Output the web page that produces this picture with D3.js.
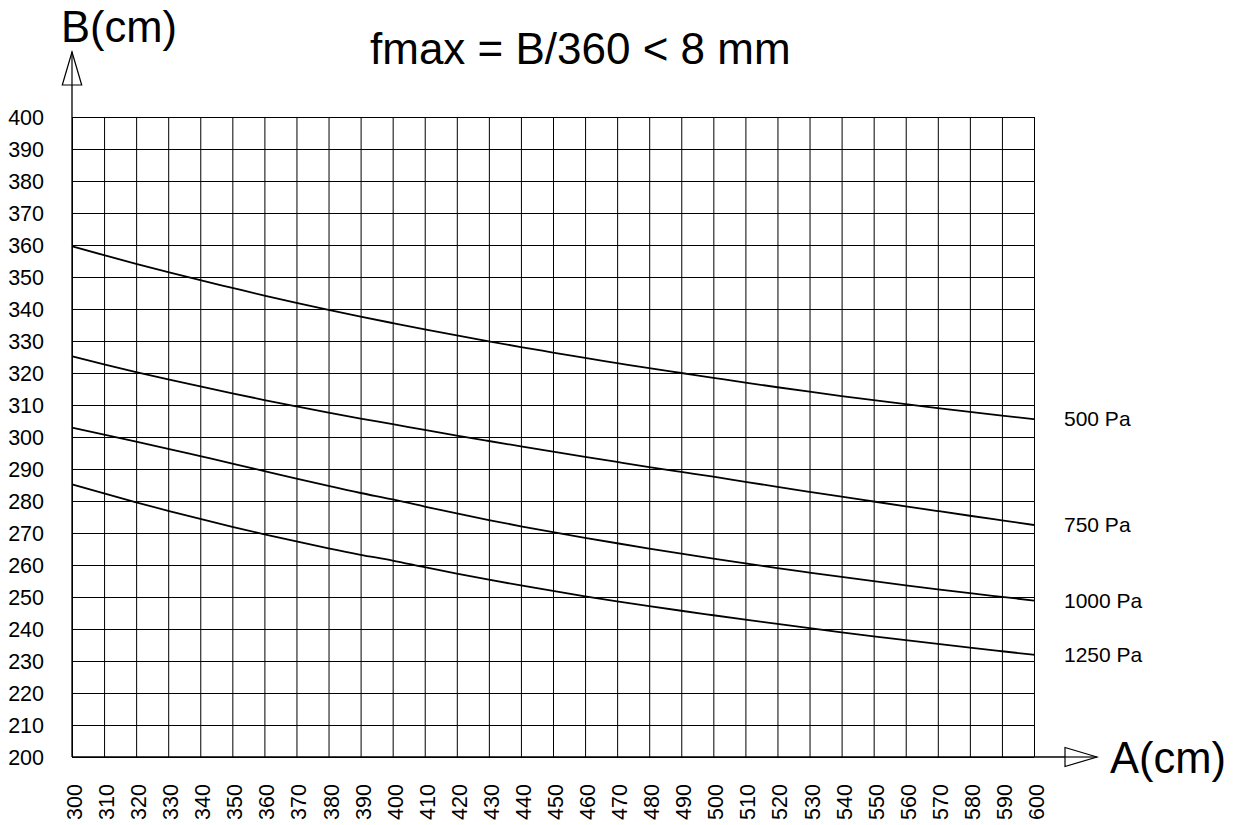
<!DOCTYPE html>
<meta charset="utf-8">
<html>
<head>
    <style>
        body {
            margin: 0;
            background-color: #fff;
        }

        text {
            font-family: Arial, "Liberation Sans", Helvetica, sans-serif;
            fill: #000;
        }

        .grid line {
            stroke: #000;
            stroke-width: 1px;
        }

        .grid path {
            display: none;
        }

        .tick text {
            font-size: 21.5px;
        }

        path.curve {
            fill: none;
            stroke: #000;
            stroke-width: 1.8px;
        }

        text.curve-label {
            font-size: 21px;
        }

        text.big {
            font-size: 43.5px;
        }

        text.title {
            font-size: 44px;
        }
    </style>
    <title>fmax = B/360 &lt; 8 mm</title>
    <script src="https://cdnjs.cloudflare.com/ajax/libs/d3/7.8.5/d3.min.js"></script>
</head>
<body>
<div id="chart"></div>
<script type="text/javascript">
    // A (cm), one point every 10 cm
    const aValues = [300, 310, 320, 330, 340, 350, 360, 370, 380, 390, 400, 410, 420, 430, 440, 450,
        460, 470, 480, 490, 500, 510, 520, 530, 540, 550, 560, 570, 580, 590, 600];
    const bTicks = [200, 210, 220, 230, 240, 250, 260, 270, 280, 290, 300, 310, 320, 330, 340, 350,
        360, 370, 380, 390, 400];

    // B (cm)
    const b500 = [359.6, 356.8, 354.1, 351.5, 349.0, 346.6, 344.2, 341.9, 339.7, 337.6, 335.6,
        333.65, 331.75, 329.9, 328.1, 326.4, 324.7, 323.1, 321.5, 320.0, 318.5,
        317.0, 315.55, 314.15, 312.8, 311.5, 310.25, 309.05, 307.85, 306.7, 305.6];
    const b750 = [325.2, 322.7, 320.3, 318.0, 315.8, 313.65, 311.55, 309.55, 307.6, 305.75, 304.0,
        302.2, 300.45, 298.75, 297.07, 295.42, 293.8, 292.2, 290.62, 289.1, 287.6,
        286.0, 284.42, 282.87, 281.34, 279.84, 278.34, 276.86, 275.39, 273.94, 272.5];
    const b1000 = [302.9, 300.75, 298.55, 296.3, 294.0, 291.7, 289.35, 287.0, 284.7, 282.5, 280.5,
        278.25, 276.1, 274.05, 272.1, 270.25, 268.5, 266.8, 265.15, 263.55, 262.0,
        260.5, 259.05, 257.65, 256.27, 254.94, 253.64, 252.39, 251.19, 250.04, 248.9];
    const b1250 = [285.2, 282.35, 279.6, 276.95, 274.4, 271.95, 269.6, 267.35, 265.2, 263.2, 261.4,
        259.3, 257.3, 255.4, 253.6, 251.88, 250.23, 248.65, 247.15, 245.7, 244.3,
        242.92, 241.57, 240.25, 238.97, 237.72, 236.5, 235.32, 234.17, 233.05, 231.95];
    const seriesNames = ["500 Pa", "750 Pa", "1000 Pa", "1250 Pa"];
    const seriesValues = [b500, b750, b1000, b1250];

    const W = 1235, H = 825,
        plotLeft = 72, plotRight = 1034, plotTop = 117, plotBottom = 757;

    const svg = d3.select("#chart").append("svg")
        .attr("width", W)
        .attr("height", H);

    const x = d3.scaleLinear().domain([300, 600]).range([plotLeft, plotRight]);
    const y = d3.scaleLinear().domain([200, 400]).range([plotBottom, plotTop]);

    // vertical grid + rotated A labels
    const xAxis = svg.append("g")
        .attr("class", "grid")
        .attr("transform", "translate(0," + plotBottom + ")")
        .call(d3.axisBottom(x).tickValues(aValues).tickSize(-(plotBottom - plotTop)).tickFormat(d3.format("d")));
    xAxis.selectAll(".tick text")
        .attr("transform", "translate(2,0) rotate(-90)")
        .attr("x", -27)
        .attr("y", 0)
        .attr("dy", "0.35em")
        .style("text-anchor", "end");

    // horizontal grid + B labels
    const yAxis = svg.append("g")
        .attr("class", "grid")
        .attr("transform", "translate(" + plotLeft + ",0)")
        .call(d3.axisLeft(y).tickValues(bTicks).tickSize(-(plotRight - plotLeft)).tickFormat(d3.format("d")));
    yAxis.selectAll(".tick text")
        .attr("x", -28)
        .attr("dy", "0.35em")
        .style("text-anchor", "end");

    // axes with open arrow heads
    svg.append("line")
        .attr("x1", plotLeft).attr("x2", plotLeft)
        .attr("y1", 52).attr("y2", plotBottom)
        .attr("stroke", "#000").attr("stroke-width", 1.3);
    svg.append("path")
        .attr("d", "M" + plotLeft + ",52L" + (plotLeft - 9.7) + ",85L" + (plotLeft + 9.7) + ",85Z")
        .attr("fill", "#fff").attr("stroke", "#000").attr("stroke-width", 1.2);
    svg.append("line")
        .attr("x1", plotLeft).attr("x2", plotLeft)
        .attr("y1", 52).attr("y2", 85)
        .attr("stroke", "#000").attr("stroke-width", 1.2);
    svg.append("line")
        .attr("x1", plotLeft).attr("x2", 1065)
        .attr("y1", plotBottom).attr("y2", plotBottom)
        .attr("stroke", "#000").attr("stroke-width", 1.3);
    svg.append("path")
        .attr("d", "M1097," + plotBottom + "L1065," + (plotBottom - 9.5) + "L1065," + (plotBottom + 9.5) + "Z")
        .attr("fill", "#fff").attr("stroke", "#000").attr("stroke-width", 1.2);
    svg.append("line")
        .attr("x1", 1065).attr("x2", 1097)
        .attr("y1", plotBottom).attr("y2", plotBottom)
        .attr("stroke", "#000").attr("stroke-width", 1.2);

    // curves
    const line = d3.line()
        .x((d, i) => x(aValues[i]))
        .y((d) => y(d))
        .curve(d3.curveMonotoneX);

    svg.selectAll(".curve")
        .data(seriesValues)
        .enter().append("path")
        .attr("class", "curve")
        .attr("d", line);

    svg.selectAll(".curve-label")
        .data(seriesValues)
        .enter().append("text")
        .attr("class", "curve-label")
        .attr("x", 1064)
        .attr("y", (d) => y(d[d.length - 1]))
        .attr("dy", "0.35em")
        .text((d, i) => seriesNames[i]);

    // titles
    svg.append("text")
        .attr("class", "big")
        .attr("x", 61)
        .attr("y", 42)
        .text("B(cm)");

    svg.append("text")
        .attr("class", "big")
        .attr("x", 1110)
        .attr("y", 773)
        .text("A(cm)");

    svg.append("text")
        .attr("class", "title")
        .attr("x", 370)
        .attr("y", 64)
        .text("fmax = B/360 < 8 mm");
</script>
</body>
</html>
